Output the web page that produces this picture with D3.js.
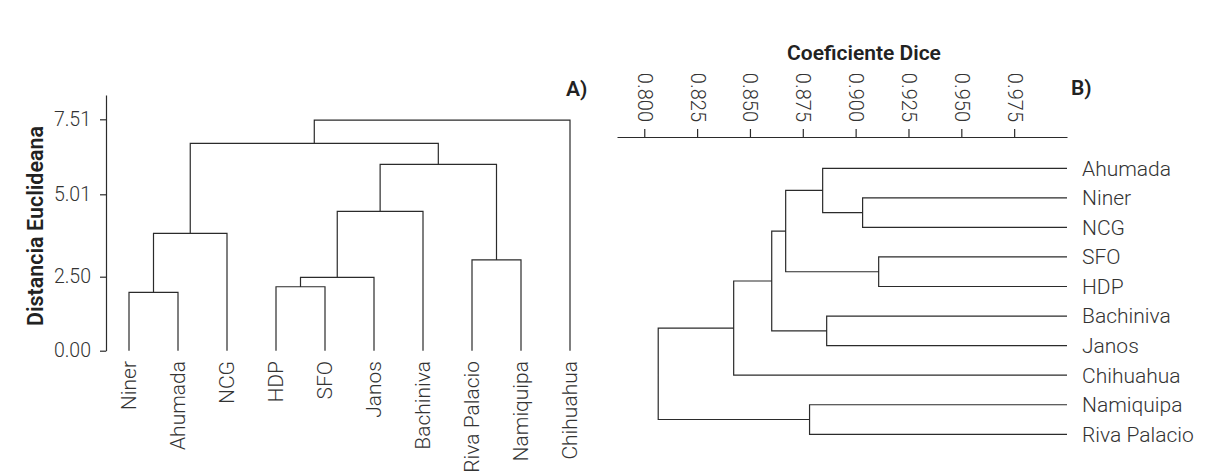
<!DOCTYPE html>
<html>
<head>
<meta charset="utf-8">
<script src="https://cdn.jsdelivr.net/npm/d3@7"></script>
<style>
  html, body { margin: 0; padding: 0; background: #fff; }
  svg { display: block; font-family: Roboto, "Noto Sans", sans-serif; }
</style>
</head>
<body>
<svg id="chart" width="1215" height="474"></svg>
<script>
// ---------- Data (panel A: Euclidean distance dendrogram) ----------
const leftLeaves = ["Niner", "Ahumada", "NCG", "HDP", "SFO", "Janos", "Bachiniva", "Riva Palacio", "Namiquipa", "Chihuahua"];
// merges: [childA, childB, height]; "mN" refers to the N-th merge
const leftMerges = [
  ["Niner", "Ahumada", 1.97],
  ["m0", "NCG", 3.82],
  ["HDP", "SFO", 2.16],
  ["m2", "Janos", 2.48],
  ["m3", "Bachiniva", 4.49],
  ["Riva Palacio", "Namiquipa", 3.01],
  ["m4", "m5", 6.01],
  ["m1", "m6", 6.71],
  ["m7", "Chihuahua", 7.48]
];
const leftTicks = [0.00, 2.50, 5.01, 7.51];
const leftTickLabels = ["0.00", "2.50", "5.01", "7.51"];

// ---------- Data (panel B: Dice coefficient dendrogram) ----------
const rightLeaves = ["Ahumada", "Niner", "NCG", "SFO", "HDP", "Bachiniva", "Janos", "Chihuahua", "Namiquipa", "Riva Palacio"];
const rightMerges = [
  ["Niner", "NCG", 0.9033],
  ["Ahumada", "m0", 0.8844],
  ["SFO", "HDP", 0.9109],
  ["m1", "m2", 0.8669],
  ["Bachiniva", "Janos", 0.8863],
  ["m3", "m4", 0.8603],
  ["m5", "Chihuahua", 0.8423],
  ["Namiquipa", "Riva Palacio", 0.8782],
  ["m6", "m7", 0.8066]
];
const rightLeafValue = 1.0;
const rightTicks = [0.800, 0.825, 0.850, 0.875, 0.900, 0.925, 0.950, 0.975];
const rightTickLabels = ["0.800", "0.825", "0.850", "0.875", "0.900", "0.925", "0.950", "0.975"];

// ---------- Setup ----------
const svg = d3.select("#chart");
const lineColor = "#2b2b2b";
const textColor = "#333";

function layout(leaves, merges, leafPos, leafVal) {
  const nodes = {};
  leaves.forEach(l => nodes[l] = { pos: leafPos(l), val: leafVal });
  merges.forEach((m, i) => {
    const a = nodes[m[0]], b = nodes[m[1]];
    nodes["m" + i] = { pos: (a.pos + b.pos) / 2, val: m[2], a, b };
  });
  return merges.map((m, i) => nodes["m" + i]);
}

// ---------- Panel A ----------
const xA = d3.scalePoint().domain(leftLeaves).range([129, 570]);
const yA = d3.scaleLinear()
  .domain([0, 2.50, 5.01, 7.51, 8.25])
  .range([350.7, 276.7, 194.3, 119.3, 95]);

const gA = svg.append("g");
const axisA = d3.axisLeft(yA).tickValues(leftTicks)
  .tickFormat((d, i) => leftTickLabels[i]).tickSize(6).tickSizeOuter(0).tickPadding(9);
const axA = gA.append("g").attr("transform", "translate(106,0)").call(axisA);
axA.select(".domain").attr("stroke", lineColor).attr("stroke-width", 1.2);
axA.selectAll(".tick line").attr("stroke", lineColor).attr("stroke-width", 1.2);
axA.selectAll(".tick text").attr("fill", textColor).style("font-size", "19.5px").style("font-weight", 300)
  .style("font-family", "Roboto, sans-serif");

const nodesA = layout(leftLeaves, leftMerges, l => xA(l), 0);
const pathA = [];
nodesA.forEach(n => {
  pathA.push(`M${n.a.pos},${yA(n.a.val)}V${yA(n.val)}H${n.b.pos}V${yA(n.b.val)}`);
});
gA.append("path").attr("d", pathA.join(""))
  .attr("fill", "none").attr("stroke", lineColor).attr("stroke-width", 1.2);

gA.selectAll("text.leafA").data(leftLeaves).join("text")
  .attr("class", "leafA")
  .attr("transform", d => `translate(${xA(d)},361) rotate(-90)`)
  .attr("text-anchor", "end").attr("dy", "0.35em")
  .attr("fill", textColor).style("font-size", "21px").style("font-weight", 300)
  .text(d => d);

gA.append("text")
  .attr("transform", "translate(35,226) rotate(-90)")
  .attr("text-anchor", "middle").attr("dy", "0.35em")
  .attr("fill", "#222").style("font-size", "21.5px").style("font-weight", 600)
  .text("Distancia Euclideana");

gA.append("text").attr("x", 566).attr("y", 96)
  .attr("fill", "#222").style("font-size", "21px").style("font-weight", 600)
  .text("A)");

// ---------- Panel B ----------
const xB = d3.scaleLinear().domain([0.7871, 1.0]).range([617, 1067]);
const yB = d3.scalePoint().domain(rightLeaves).range([168.3, 434.3]);

const gB = svg.append("g");
const axisB = d3.axisTop(xB).tickValues(rightTicks)
  .tickFormat((d, i) => rightTickLabels[i]).tickSize(8).tickSizeOuter(0);
const axB = gB.append("g").attr("transform", "translate(0,137)").call(axisB);
axB.select(".domain").attr("stroke", lineColor).attr("stroke-width", 1.2);
axB.selectAll(".tick line").attr("stroke", lineColor).attr("stroke-width", 1.2);
axB.selectAll(".tick text")
  .attr("transform", "translate(0,-15) rotate(90)")
  .attr("x", 0).attr("y", 0).attr("dy", "0.35em")
  .attr("text-anchor", "end")
  .attr("fill", textColor).style("font-size", "20px").style("font-weight", 300)
  .style("font-family", "Roboto, sans-serif");

const nodesB = layout(rightLeaves, rightMerges, l => yB(l), rightLeafValue);
const pathB = [];
nodesB.forEach(n => {
  pathB.push(`M${xB(n.a.val)},${n.a.pos}H${xB(n.val)}V${n.b.pos}H${xB(n.b.val)}`);
});
gB.append("path").attr("d", pathB.join(""))
  .attr("fill", "none").attr("stroke", lineColor).attr("stroke-width", 1.2);

gB.selectAll("text.leafB").data(rightLeaves).join("text")
  .attr("class", "leafB")
  .attr("x", 1082).attr("y", d => yB(d)).attr("dy", "0.35em")
  .attr("fill", textColor).style("font-size", "21px").style("font-weight", 300)
  .text(d => d);

gB.append("text").attr("x", 864).attr("y", 60)
  .attr("text-anchor", "middle")
  .attr("fill", "#222").style("font-size", "21px").style("font-weight", 600)
  .text("Coeficiente Dice");

gB.append("text").attr("x", 1071).attr("y", 95)
  .attr("fill", "#222").style("font-size", "21px").style("font-weight", 600)
  .text("B)");
</script>
</body>
</html>
